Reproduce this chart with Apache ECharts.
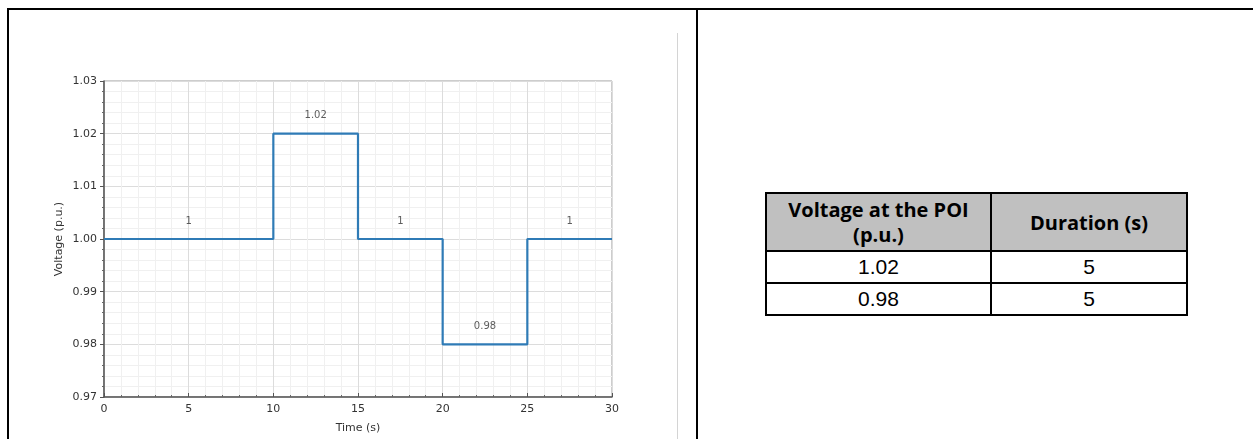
<!DOCTYPE html>
<html>
<head>
<meta charset="utf-8">
<script src="https://cdn.jsdelivr.net/npm/echarts@6/dist/echarts.min.js"></script>
<style>
  html, body { margin: 0; padding: 0; background: #fff; }
  body { width: 1253px; height: 439px; position: relative; overflow: hidden; }
  .frame-top { position: absolute; left: 7px; top: 8px; width: 1246px; height: 2px; background: #000; }
  .frame-left { position: absolute; left: 7px; top: 8px; width: 2px; height: 431px; background: #000; }
  .frame-mid { position: absolute; left: 696px; top: 8px; width: 2px; height: 431px; background: #000; }
  .img-edge { position: absolute; left: 677px; top: 33px; width: 1px; height: 406px; background: #d4d4d4; }
  #chart { position: absolute; left: 0; top: 0; width: 680px; height: 439px; }
  table {
    position: absolute; left: 765px; top: 192px; width: 423px;
    border-collapse: collapse; font-family: "Liberation Sans", Arial, sans-serif;
  }
  th, td { border: 2px solid #000; text-align: center; color: #000; padding: 0; }
  th {
    background: #c0c0c0; font-family: "Open Sans", "Noto Sans", sans-serif;
    font-weight: 700; font-size: 20px; line-height: 25px; height: 56px;
  }
  td { font-size: 21px; height: 30px; line-height: 30px; }
</style>
</head>
<body>
<div class="frame-top"></div>
<div class="frame-left"></div>
<div class="frame-mid"></div>
<div class="img-edge"></div>
<div id="chart"></div>
<table>
  <tr><th style="width:223px">Voltage at the POI<br>(p.u.)</th><th>Duration (s)</th></tr>
  <tr><td>1.02</td><td>5</td></tr>
  <tr><td>0.98</td><td>5</td></tr>
</table>
<script>
// step profile: value holds from each time until the next one
var times = [0, 10, 15, 20, 25, 30]
var volts = [1, 1.02, 1, 0.98, 1, 1]
var segLabels = ['1', '1.02', '1', '0.98', '1']
var xTicks = [0, 5, 10, 15, 20, 25, 30]
var yTicks = ['0.97', '0.98', '0.99', '1.00', '1.01', '1.02', '1.03']

var stepData = times.map(function (t, i) { return [t, volts[i]] })
// labels sit at the middle of each flat segment
var labelData = segLabels.map(function (txt, i) {
  return { value: [(times[i] + times[i + 1]) / 2, volts[i]], label: { formatter: txt } }
})

var font = 'DejaVu Sans'
var chart = echarts.init(document.getElementById('chart'), null, { renderer: 'canvas' })
chart.setOption({
  animation: false,
  grid: {
    left: 104, right: 68, top: 81, bottom: 42, show: true,
    borderColor: '#9a9a9a', borderWidth: 1, outerBoundsMode: 'none'
  },
  xAxis: {
    type: 'value', min: xTicks[0], max: xTicks[xTicks.length - 1], interval: 5,
    name: 'Time (s)', nameLocation: 'middle', nameGap: 26,
    nameTextStyle: { fontFamily: font, fontSize: 11, color: '#333' },
    axisLine: { lineStyle: { color: '#555', width: 1.5 } },
    axisTick: { inside: true, length: 4, lineStyle: { color: '#555' } },
    minorTick: { show: true, splitNumber: 5, length: 2, lineStyle: { color: '#666' } },
    axisLabel: { fontFamily: font, fontSize: 11, color: '#333', margin: 7 },
    splitLine: { lineStyle: { color: '#dcdcdc' } },
    minorSplitLine: { show: true, lineStyle: { color: '#f0f0f0' } }
  },
  yAxis: {
    type: 'value', min: 0.97, max: 1.03, interval: 0.01,
    name: 'Voltage (p.u.)', nameLocation: 'middle', nameGap: 39, nameMoveOverlap: false,
    nameTextStyle: { fontFamily: font, fontSize: 11, color: '#333' },
    axisLine: { show: true, lineStyle: { color: '#555', width: 1.5 } },
    axisTick: { show: true, length: 4, lineStyle: { color: '#555' } },
    minorTick: { show: true, splitNumber: 5, length: 2, lineStyle: { color: '#666' } },
    axisLabel: {
      fontFamily: font, fontSize: 11, color: '#333', margin: 7,
      formatter: function (v) { return yTicks[Math.round((v - 0.97) * 100)] }
    },
    splitLine: { lineStyle: { color: '#dcdcdc' } },
    minorSplitLine: { show: true, lineStyle: { color: '#f0f0f0' } }
  },
  series: [
    {
      type: 'line', step: 'end', data: stepData, symbol: 'none',
      lineStyle: { color: '#2f7bb6', width: 2.2 }
    },
    {
      type: 'scatter', data: labelData, symbolSize: 0, silent: true,
      label: { show: true, position: 'top', distance: 13, fontFamily: font, fontSize: 10, color: '#333' }
    }
  ]
})
</script>
</body>
</html>
